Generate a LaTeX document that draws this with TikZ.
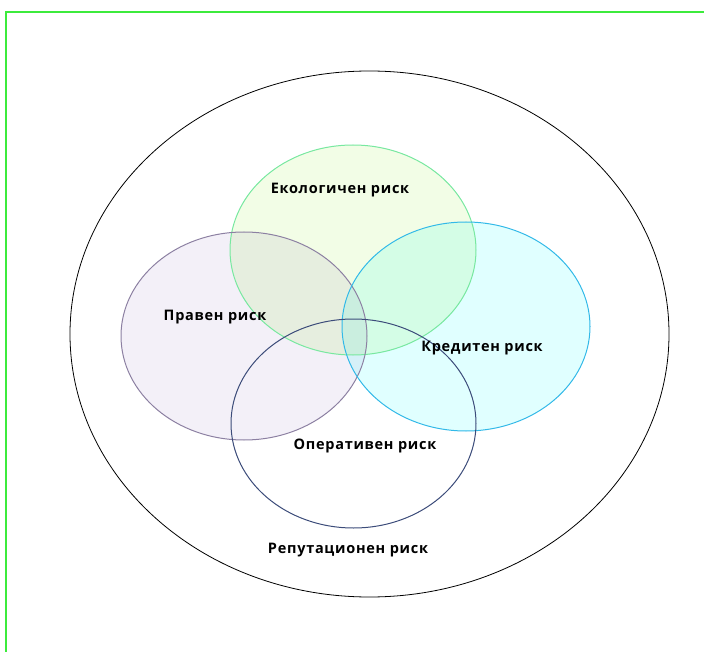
\documentclass[tikz,border=0pt]{standalone}
\usepackage{fontspec}
\setmainfont{Open Sans}
\newfontfamily\lblfont{Open Sans}[LetterSpace=5]
\usetikzlibrary{shapes.geometric}
\definecolor{frameG}{RGB}{60,235,60}
\definecolor{ecoF}{RGB}{242,253,230}
\definecolor{ecoS}{RGB}{120,232,160}
\definecolor{legF}{RGB}{243,240,248}
\definecolor{legS}{RGB}{140,128,162}
\definecolor{crF}{RGB}{224,255,255}
\definecolor{crS}{RGB}{50,185,232}
\definecolor{opS}{RGB}{60,76,122}
\begin{document}
\begin{tikzpicture}[x=1pt,y=-1pt,
  lbl/.style={font=\lblfont\bfseries\fontsize{14.5}{17}\selectfont, text=black, inner sep=0pt},
  ring/.style={line width=1pt}]
\useasboundingbox (0,0) rectangle (704,652);
\node[draw=black, line width=0.8pt, ellipse, minimum width=599pt, minimum height=526pt, inner sep=0pt] (rep) at (369.5,334) {};
\begin{scope}[blend group=multiply]
\fill[ecoF] (353,250) ellipse [x radius=123, y radius=105];
\fill[legF] (244,336) ellipse [x radius=123, y radius=104];
\fill[crF] (466,326.5) ellipse [x radius=124, y radius=104.5];
\end{scope}
\draw[ecoS, ring] (353,250) ellipse [x radius=123, y radius=105];
\draw[legS, ring] (244,336) ellipse [x radius=123, y radius=104];
\draw[crS, ring] (466,326.5) ellipse [x radius=124, y radius=104.5];
\draw[opS, ring] (353.5,423.5) ellipse [x radius=122.5, y radius=104.5];
\node[lbl] (eco) at (340,190.5) {Екологичен риск};
\node[lbl] (leg) at (215,317.5) {Правен риск};
\node[lbl] (cr) at (482,348) {Кредитен риск};
\node[lbl] (op) at (365,445.5) {Оперативен риск};
\node[lbl] (reptxt) at (348,550.5) {Репутационен риск};
\draw[frameG, line width=1.8pt] (6,652) -- (6,12) -- (704,12);
\end{tikzpicture}
\end{document}
